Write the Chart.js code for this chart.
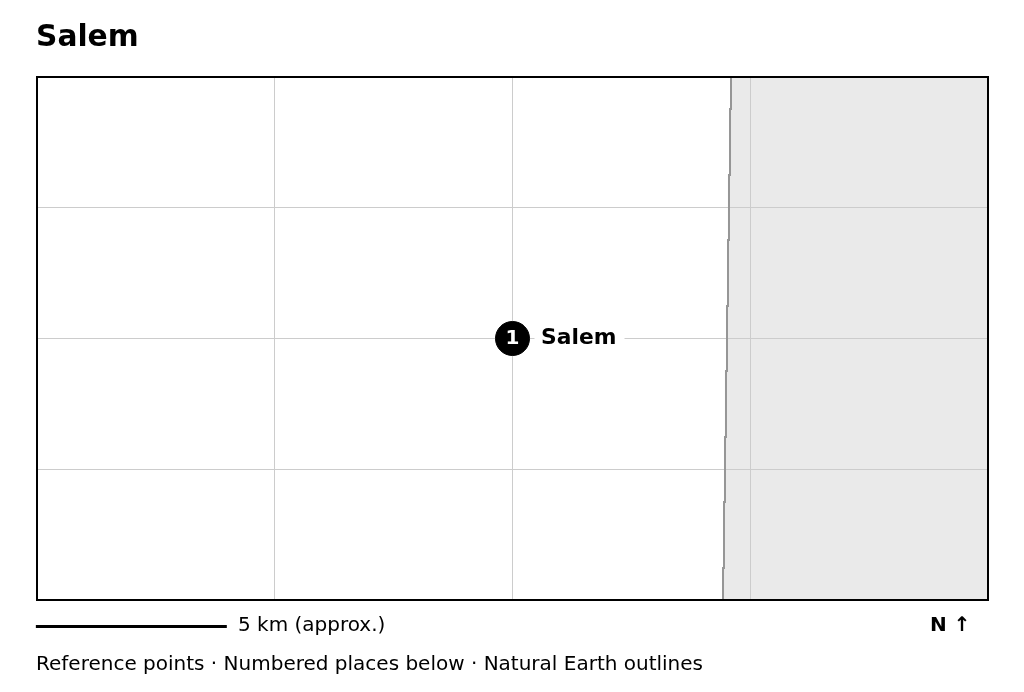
<!DOCTYPE html>
<html><head><meta charset="utf-8">
<style>html,body{margin:0;padding:0;background:#fff}#w{width:1024px;height:692px;position:relative}canvas{display:block}</style>
<script src="https://cdn.jsdelivr.net/npm/chart.js@4/dist/chart.umd.min.js"></script>
</head><body><div id="w"><canvas id="c" width="1024" height="692"></canvas></div>
<script>
// All distances are km east / north of the Salem marker.
const titleText = 'Salem';
const placeNames = ['Salem'];
const placeNumbers = ['1'];
const placeX = [0];
const placeY = [0];
const xTicks = [-12.5, -6.25, 0, 6.25, 12.5];
const yTicks = [-6.875, -3.4375, 0, 3.4375, 6.875];
const coastY = [-6.875, -6.033, -4.298, -2.589, -0.854, 0.854, 2.589, 4.298, 6.033, 6.875];
const coastX = [5.534, 5.534, 5.560, 5.586, 5.612, 5.639, 5.665, 5.691, 5.718, 5.744];
const landCornerX = [12.5];
const landCornerY = [6.875];
const scaleBarX = [-12.53, -7.51];
const scaleBarY = [-7.57, -7.57];
const scaleLabel = '5 km (approx.)';
const northLabel = 'N ↑';
const noteLabel = 'Reference points · Numbered places below · Natural Earth outlines';

const FONT = '"DejaVu Sans"';
const overlay = {
  id: 'overlay',
  afterDatasetsDraw(chart) {
    const {ctx, chartArea: a, scales: {x, y}} = chart;
    ctx.save();
    ctx.textBaseline = 'middle';
    placeNames.forEach((n, i) => {
      const px = x.getPixelForValue(placeX[i]), py = y.getPixelForValue(placeY[i]);
      ctx.textAlign = 'center';
      ctx.fillStyle = '#fff';
      ctx.font = `bold 20px ${FONT}`;
      ctx.fillText(placeNumbers[i], px, py + 0.5);
      ctx.fillStyle = '#fff';
      ctx.fillRect(px + 22, py - 13, 90, 26);
      ctx.fillStyle = '#000';
      ctx.textAlign = 'left';
      ctx.font = `bold 21.8px ${FONT}`;
      ctx.fillText(n, px + 28.5, py);
    });
    ctx.lineWidth = 2;
    ctx.strokeStyle = '#000';
    ctx.strokeRect(a.left, a.top, a.right - a.left, a.bottom - a.top);
    ctx.fillStyle = '#000';
    ctx.textAlign = 'left';
    ctx.font = `20px ${FONT}`;
    ctx.fillText(scaleLabel, 238, 626);
    ctx.fillText(noteLabel, 36, 665);
    ctx.font = `bold 20px ${FONT}`;
    ctx.fillText(northLabel, 930, 626);
    ctx.restore();
  }
};

new Chart(document.getElementById('c'), {
  type: 'scatter',
  data: { datasets: [
    { label: 'Land',
      data: coastX.concat(landCornerX).map((v, i) => ({x: v, y: coastY.concat(landCornerY)[i]})),
      showLine: true, stepped: 'before', fill: 'start', backgroundColor: '#eaeaea',
      borderWidth: 0, borderColor: 'rgba(0,0,0,0)', pointRadius: 0, order: 4 },
    { label: 'Coast',
      data: coastX.map((v, i) => ({x: v, y: coastY[i]})),
      showLine: true, stepped: 'before', fill: false,
      borderColor: '#969696', borderWidth: 2, pointRadius: 0, order: 3 },
    { label: 'Places',
      data: placeX.map((v, i) => ({x: v, y: placeY[i]})),
      pointRadius: 17, pointBackgroundColor: '#000', pointBorderColor: '#000',
      pointBorderWidth: 1, order: 2 },
    { label: 'Scale bar',
      data: scaleBarX.map((v, i) => ({x: v, y: scaleBarY[i]})),
      showLine: true, borderColor: '#000', borderWidth: 3, pointRadius: 0,
      clip: false, order: 1 }
  ]},
  plugins: [overlay],
  options: {
    responsive: false, animation: false, devicePixelRatio: 1,
    layout: { padding: {left: 36, right: 36, top: 0, bottom: 92} },
    scales: {
      x: { type: 'linear', min: xTicks[0], max: xTicks[4],
        afterBuildTicks(s) { s.ticks = xTicks.map(value => ({value})); },
        ticks: {display: false}, border: {display: false},
        grid: {color: '#cccccc', lineWidth: 1, drawTicks: false} },
      y: { type: 'linear', min: yTicks[0], max: yTicks[4],
        afterBuildTicks(s) { s.ticks = yTicks.map(value => ({value})); },
        afterFit(s) { s.width = 1; },
        ticks: {display: false}, border: {display: false},
        grid: {color: '#cccccc', lineWidth: 1, drawTicks: false} }
    },
    plugins: {
      legend: {display: false}, tooltip: {enabled: false},
      filler: {drawTime: 'beforeDraw'},
      title: { display: true, text: titleText, align: 'start', color: '#000',
        font: {family: FONT, size: 29.7, weight: 'bold'},
        padding: {top: 20, bottom: 21.36} }
    }
  }
});
</script>
</body></html>
